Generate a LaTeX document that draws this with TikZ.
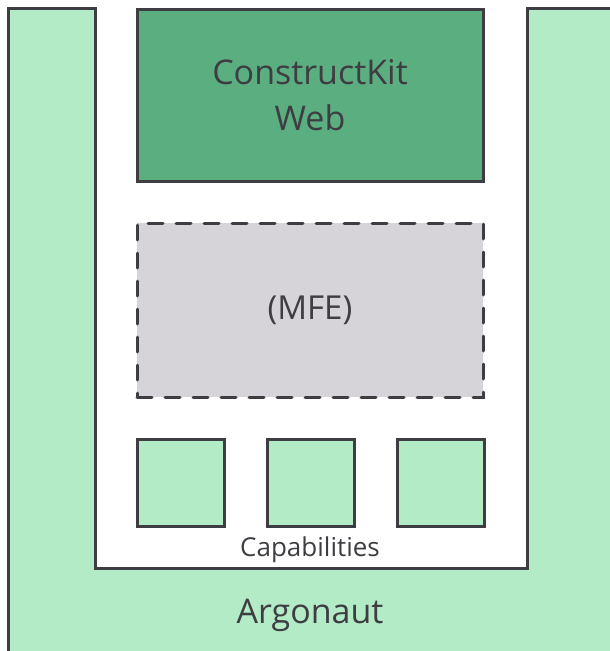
\documentclass[tikz,border=0pt]{standalone}
\usepackage{fontspec}
\setmainfont{Open Sans}
\usepackage{xcolor}
\usetikzlibrary{positioning}
\definecolor{argogreen}{HTML}{B2EBC6}
\definecolor{webgreen}{HTML}{5AAE7F}
\definecolor{mfegrey}{HTML}{D6D4D9}
\definecolor{edgegrey}{HTML}{3E3D42}

\begin{document}
\begin{tikzpicture}[x=1pt,y=-1pt,
  box/.style={draw=edgegrey, line width=3pt, inner sep=0pt, text=edgegrey},
  capbox/.style={box, fill=argogreen, minimum width=87pt, minimum height=87pt}]
\useasboundingbox (0,0) rectangle (610,651);
\def\argoshape{(8,660) -- (8,8) -- (95,8) -- (95,568) -- (527,568) -- (527,8) -- (620,8)}
  \begin{scope}
    \clip (0,0) rectangle (610,651);
    \fill[argogreen] \argoshape -- (620,660) -- cycle;
    \draw[edgegrey, line width=3pt] \argoshape;
  \end{scope}
  \node[box, fill=webgreen, minimum width=346pt, minimum height=172pt, align=center,
        font=\fontsize{34}{46}\selectfont] (web) at (310,95) {ConstructKit\\Web};
  \node[box, fill=mfegrey, line cap=round, dash pattern=on 15pt off 13pt, minimum width=346pt,
        minimum height=174pt, font=\fontsize{33}{38}\selectfont] (mfe) at (310,310) {\raisebox{-2pt}{(MFE)}};
  \node[capbox] (cap1) at (180.5,482.5) {};
  \node[capbox, right=40pt of cap1] (cap2) {};
  \node[capbox, right=40pt of cap2] (cap3) {};
  \node[text=edgegrey, font=\fontsize{26}{30}\selectfont] (caps) at (310,549.5) {Capabilities};
  \node[text=edgegrey, font=\fontsize{34}{38}\selectfont] (argo) at (310,615) {Argonaut};
\end{tikzpicture}
\end{document}
